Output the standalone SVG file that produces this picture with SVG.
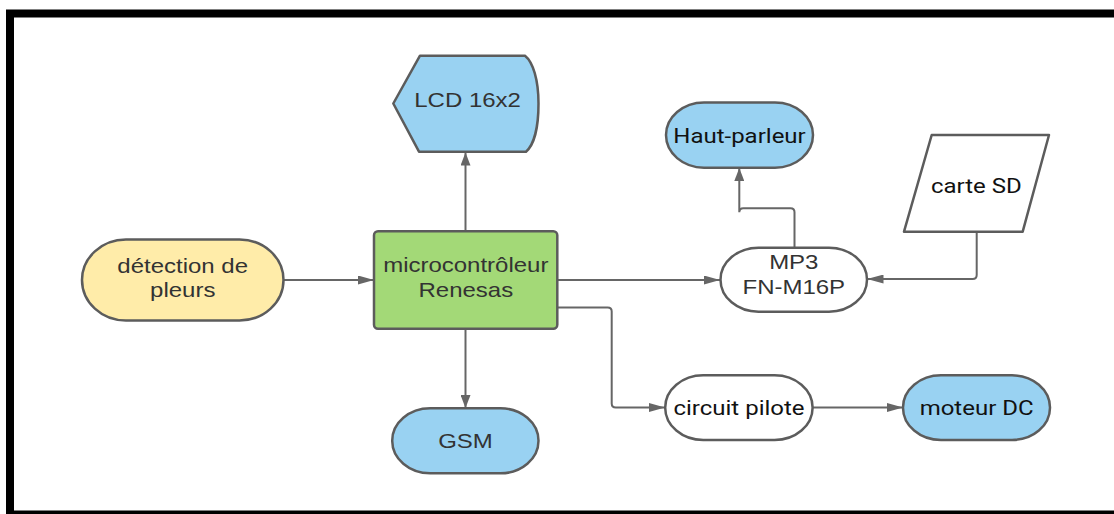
<svg xmlns="http://www.w3.org/2000/svg" width="1114" height="514" viewBox="0 0 1114 514">
<style>
.node{stroke:#5c5c5c;stroke-width:2.5;stroke-linejoin:round}
.blue{fill:#99d2f2}.green{fill:#a3d977}.yellow{fill:#ffeca9}.white{fill:#ffffff}
.t{font-family:"Liberation Sans",Arial,sans-serif;font-size:20px;fill:#333333;text-anchor:middle}
.k{font-family:Roboto,"Liberation Sans",Arial,sans-serif;font-size:20px;fill:#111111;text-anchor:middle}
.conn path{fill:none;stroke:#666666;stroke-width:2}
</style>
<defs>
<marker id="ah" markerUnits="userSpaceOnUse" markerWidth="16" markerHeight="9" viewBox="0 0 16 9" refX="16" refY="4.5" orient="auto"><path d="M0,0 L16,4.5 L0,9 Z" fill="#666666"/></marker>
<marker id="av" markerUnits="userSpaceOnUse" markerWidth="13" markerHeight="10" viewBox="0 0 13 10" refX="13" refY="5" orient="auto"><path d="M0,0 L13,5 L0,10 Z" fill="#666666"/></marker>
</defs>
<rect x="0" y="0" width="1114" height="514" fill="#ffffff"/>
<rect x="10" y="13.5" width="1114" height="501" fill="none" stroke="#000000" stroke-width="8"/>

<g class="conn" id="connectors">
<path d="M283.5,280 H374" marker-end="url(#ah)"/>
<path d="M465.5,231 V152.5" marker-end="url(#av)"/>
<path d="M465.5,329 V408" marker-end="url(#av)"/>
<path d="M557.5,280 H720" marker-end="url(#ah)"/>
<path d="M557.5,307.5 H607.7 Q611.7,307.5 611.7,311.5 V403.5 Q611.7,407.5 615.7,407.5 H665" marker-end="url(#ah)"/>
<path d="M794.5,247.5 V212.3 Q794.5,208.3 790.5,208.3 H743.3 Q739.3,208.3 739.3,212.3 V168" marker-end="url(#av)"/>
<path d="M976.7,231.7 V275 Q976.7,279 972.7,279 H867.5" marker-end="url(#ah)"/>
<path d="M812.6,407.5 H903" marker-end="url(#ah)"/>
</g>

<g id="lcd">
<path class="node blue" d="M393.3,103.5 L420,55.7 H525 C533,62 538.5,80 538.5,103.5 C538.5,127 534,145 526,151.7 H419 Z"/>
<text class="t" transform="translate(467.6,107.3) scale(1.2,1)">LCD 16x2</text>
</g>

<g id="detection">
<rect class="node yellow" x="82" y="239.5" width="201.5" height="81" rx="44" ry="40.5"/>
<text class="t" transform="translate(182.7,272.5) scale(1.2,1)">détection de</text>
<text class="t" transform="translate(182.7,297) scale(1.2,1)">pleurs</text>
</g>

<g id="micro">
<rect class="node green" x="374" y="231.3" width="183.3" height="97.4" rx="4"/>
<text class="t" transform="translate(465.8,272) scale(1.2,1)">microcontrôleur</text>
<text class="t" transform="translate(465.8,296.5) scale(1.2,1)">Renesas</text>
</g>

<g id="gsm">
<rect class="node blue" x="392.2" y="408.3" width="146.3" height="65" rx="38" ry="32.5"/>
<text class="t" transform="translate(465.5,448) scale(1.2,1)">GSM</text>
</g>

<g id="hautparleur">
<rect class="node blue" x="666" y="102.5" width="147" height="65.2" rx="38" ry="32.6"/>
<text class="k" transform="translate(739.5,143.3) scale(1.2,1)">Haut-parleur</text>
</g>

<g id="cartesd">
<path class="node white" d="M931.7,135 H1049 L1022.7,231.7 H904 Z"/>
<text class="k" transform="translate(976.3,192.5) scale(1.2,1)">carte SD</text>
</g>

<g id="mp3">
<rect class="node white" x="720.5" y="247.7" width="146.5" height="64" rx="38" ry="32"/>
<text class="t" transform="translate(793.8,269) scale(1.2,1)">MP3</text>
<text class="t" transform="translate(793.8,294.3) scale(1.2,1)">FN-M16P</text>
</g>

<g id="circuit">
<rect class="node white" x="665.2" y="375.3" width="147.4" height="64.7" rx="38" ry="32.3"/>
<text class="k" transform="translate(739,415) scale(1.2,1)">circuit pilote</text>
</g>

<g id="moteur">
<rect class="node blue" x="903" y="375.3" width="147" height="64.7" rx="38" ry="32.3"/>
<text class="k" transform="translate(976.6,415) scale(1.2,1)">moteur DC</text>
</g>
</svg>
